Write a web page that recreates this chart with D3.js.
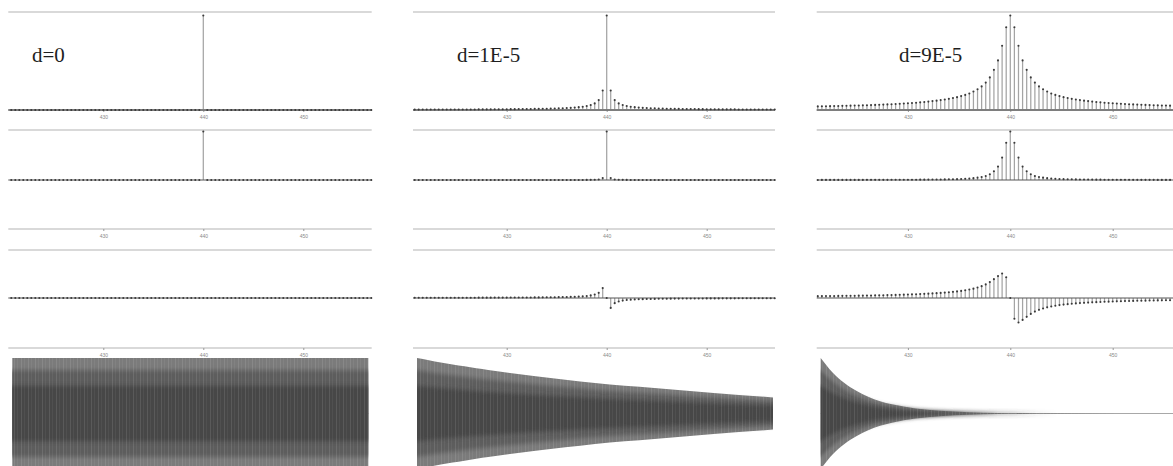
<!DOCTYPE html>
<html>
<head>
<meta charset="utf-8">
<script src="https://cdn.jsdelivr.net/npm/d3@7"></script>
<style>
  body { margin: 0; background: #fff; }
  svg { display: block; }
</style>
</head>
<body>
<svg id="chart" width="1173" height="466"></svg>
<script>
// ---- data ----
const titles = ['d=0', 'd=1E-5', 'd=9E-5'];
const tickValues = [430, 440, 450];
const binStart = 420.8; // Hz, first DFT bin
const binStep = 0.4;    // Hz between bins

// magnitude, bins k = -48 .. 42 (440 Hz is k = 0)
const mag0 = [
  0,0,0,0,0,0,0,0,0,0, 0,0,0,0,0,0,0,0,0,0, 0,0,0,0,0,0,0,0,0,0,
  0,0,0,0,0,0,0,0,0,0, 0,0,0,0,0,0,0,0,
  1,
  0,0,0,0,0,0,0,0,0,0, 0,0,0,0,0,0,0,0,0,0, 0,0,0,0,0,0,0,0,0,0,
  0,0,0,0,0,0,0,0,0,0, 0,0
];
const mag1 = [
  .004,.004,.005,.005,.005,.005,.005,.005,.005,.005, .006,.006,.006,.006,.006,.006,.007,.007,.007,.007,
  .008,.008,.008,.008,.009,.009,.010,.010,.011,.011, .012,.012,.013,.014,.015,.016,.018,.019,.021,.023,
  .026,.030,.035,.042,.053,.070,.105,.206,
  1,
  .206,.105,.070,.053,.042,.035,.030,.026,.023,.021, .019,.018,.016,.015,.014,.013,.012,.012,.011,.011,
  .010,.010,.009,.009,.008,.008,.008,.008,.007,.007, .007,.007,.006,.006,.006,.006,.006,.006,.005,.005,
  .005,.005
];
const mag9 = [
  .037,.038,.039,.040,.041,.042,.043,.044,.045,.046, .047,.048,.049,.051,.052,.054,.055,.057,.059,.061,
  .063,.066,.068,.071,.074,.077,.081,.085,.089,.094, .099,.105,.111,.118,.127,.136,.147,.160,.175,.195,
  .220,.250,.290,.345,.425,.525,.680,.876,
  1,
  .876,.680,.525,.425,.345,.290,.250,.220,.195,.175, .160,.147,.136,.127,.118,.111,.105,.099,.094,.089,
  .085,.081,.077,.074,.071,.068,.066,.063,.061,.059, .057,.055,.054,.052,.051,.049,.048,.047,.046,.045,
  .044,.043
];

// real part
const re0 = mag0;
const re1 = [
  0,0,0,0,0,0,0,0,0,0, 0,0,0,0,0,0,0,0,0,0, 0,0,0,0,0,0,0,0,0,0,
  0,0,0,0,0,0,0,0,0,.001, .001,.001,.001,.002,.003,.005,.011,.042,
  1,
  .042,.011,.005,.003,.002,.001,.001,.001,.001,0, 0,0,0,0,0,0,0,0,0,0,
  0,0,0,0,0,0,0,0,0,0, 0,0,0,0,0,0,0,0,0,0, 0,0
];
const re9 = [
  .001,.001,.002,.002,.002,.002,.002,.002,.002,.002, .002,.002,.002,.003,.003,.003,.003,.003,.003,.004,
  .004,.004,.005,.005,.005,.006,.007,.007,.008,.009, .010,.011,.012,.014,.016,.018,.022,.026,.031,.038,
  .048,.063,.084,.119,.181,.276,.462,.767,
  1,
  .767,.462,.276,.181,.119,.084,.063,.048,.038,.031, .026,.022,.018,.016,.014,.012,.011,.010,.009,.008,
  .007,.007,.006,.005,.005,.005,.004,.004,.004,.003, .003,.003,.003,.003,.003,.002,.002,.002,.002,.002,
  .002,.002
];

// imaginary part
const im0 = [
  0,0,0,0,0,0,0,0,0,0, 0,0,0,0,0,0,0,0,0,0, 0,0,0,0,0,0,0,0,0,0,
  0,0,0,0,0,0,0,0,0,0, 0,0,0,0,0,0,0,0,
  0,
  0,0,0,0,0,0,0,0,0,0, 0,0,0,0,0,0,0,0,0,0, 0,0,0,0,0,0,0,0,0,0,
  0,0,0,0,0,0,0,0,0,0, 0,0
];
const im1 = [
  .004,.004,.005,.005,.005,.005,.005,.005,.005,.005, .006,.006,.006,.006,.006,.006,.007,.007,.007,.007,
  .008,.008,.008,.008,.009,.009,.010,.010,.011,.011, .012,.012,.013,.014,.015,.016,.018,.019,.021,.023,
  .026,.030,.035,.042,.053,.070,.105,.202,
  0,
  -.202,-.105,-.070,-.053,-.042,-.035,-.030,-.026,-.023,-.021, -.019,-.018,-.016,-.015,-.014,-.013,-.012,-.012,-.011,-.011,
  -.010,-.010,-.009,-.009,-.008,-.008,-.008,-.008,-.007,-.007, -.007,-.007,-.006,-.006,-.006,-.006,-.006,-.006,-.005,-.005,
  -.005,-.005
];
const im9 = [
  .037,.038,.039,.040,.041,.042,.043,.044,.045,.046, .047,.048,.049,.051,.052,.054,.055,.057,.059,.061,
  .063,.066,.068,.071,.074,.077,.081,.085,.089,.094, .099,.104,.110,.117,.126,.135,.145,.158,.172,.191,
  .215,.242,.278,.324,.385,.447,.499,.423,
  0,
  -.423,-.499,-.447,-.385,-.324,-.278,-.242,-.215,-.191,-.172, -.158,-.145,-.135,-.126,-.117,-.110,-.104,-.099,-.094,-.089,
  -.085,-.081,-.077,-.074,-.071,-.068,-.066,-.063,-.061,-.059, -.057,-.055,-.054,-.052,-.051,-.049,-.048,-.047,-.046,-.045,
  -.044,-.043
];

// time signal: envelope of the sampled tone (relative time 0..3, relative amplitude)
const envTimes = [0, 0.1, 0.2, 0.3, 0.4, 0.5, 0.6, 0.8, 1.0, 1.25, 1.5, 2.0, 2.5, 3.0];
const env0 = [1, 1, 1, 1, 1, 1, 1, 1, 1, 1, 1, 1, 1, 1];
const env1 = [1, .96, .92, .885, .85, .815, .785, .725, .67, .61, .55, .46, .37, .29];
const env9 = [1, .74, .55, .41, .30, .22, .165, .09, .05, .024, .011, .0025, 0, 0];

// ---- layout ----
const cols = [
  { left: 8.3, right: 371.7, at440: 203.3, pxPerHz: 10 },
  { left: 413, right: 775, at440: 606.7, pxPerHz: 10 },
  { left: 816.7, right: 1181, at440: 1010.3, pxPerHz: 10.24 }
];
const titlePos = [[32, 62], [457, 62], [899, 62]];
const rows = [
  { series: [mag0, mag1, mag9], domain: [0, 1], range: [110, 15.5], top: 12, axis: 110 },
  { series: [re0, re1, re9], domain: [-1, 1], range: [228.5, 131.5], top: 130, axis: 229 },
  { series: [im0, im1, im9], domain: [-1, 1], range: [347, 249], top: 250, axis: 348 }
];
const envelopes = [env0, env1, env9];

const svg = d3.select('#chart');
const defs = svg.append('defs');
defs.append('filter').attr('id', 'soft')
  .attr('x', '-5%').attr('y', '-20%').attr('width', '110%').attr('height', '140%')
  .append('feGaussianBlur').attr('stdDeviation', '0.3 2.2');
const stripes = defs.append('pattern').attr('id', 'stripes')
  .attr('patternUnits', 'userSpaceOnUse').attr('width', 7).attr('height', 10);
stripes.append('rect').attr('x', 0).attr('width', 1).attr('height', 10)
  .attr('fill', '#fff').attr('opacity', 0.10);
stripes.append('rect').attr('x', 3).attr('width', 1).attr('height', 10)
  .attr('fill', '#fff').attr('opacity', 0.05);

titles.forEach((title, c) => {
  const col = cols[c];
  const x0 = col.left;
  const x1 = col.right;
  const x = d3.scaleLinear()
    .domain([430, 450])
    .range([col.at440 - 10 * col.pxPerHz, col.at440 + 10 * col.pxPerHz]);
  const freq = i => binStart + i * binStep;

  rows.forEach(row => {
    const y = d3.scaleLinear().domain(row.domain).range(row.range);
    // only the bins that fall inside this panel
    const values = row.series[c]
      .map((v, i) => ({ f: freq(i), v }))
      .filter(d => x(d.f) >= x0 - 0.5 && x(d.f) <= x1 + 0.5);
    const g = svg.append('g');

    g.append('line')
      .attr('x1', x0).attr('x2', x1)
      .attr('y1', row.top).attr('y2', row.top)
      .attr('stroke', '#b4b4b4').attr('stroke-width', 1.2);

    const axis = g.append('g')
      .attr('transform', `translate(0,${row.axis})`)
      .call(d3.axisBottom(x).tickValues(tickValues).tickSize(2).tickPadding(3).tickSizeOuter(0));
    axis.select('.domain')
      .attr('d', `M${x0},0H${x1}`)
      .attr('stroke', row.domain[0] === 0 ? '#555' : '#b4b4b4').attr('stroke-width', 1.2);
    axis.selectAll('.tick line').attr('stroke', '#999');
    axis.selectAll('.tick text')
      .attr('fill', '#8a8a8a')
      .style('font-family', 'Liberation Sans, Arial, sans-serif')
      .style('font-size', '5px');

    g.selectAll('line.stem')
      .data(values)
      .join('line')
      .attr('class', 'stem')
      .attr('x1', d => x(d.f)).attr('x2', d => x(d.f))
      .attr('y1', y(0)).attr('y2', d => y(d.v))
      .attr('stroke', '#a4a4a4').attr('stroke-width', 1.25);

    g.append('line')
      .attr('x1', x0).attr('x2', x1)
      .attr('y1', y(0)).attr('y2', y(0))
      .attr('stroke', '#555').attr('stroke-width', 1);

    g.selectAll('circle')
      .data(values)
      .join('circle')
      .attr('cx', d => x(d.f))
      .attr('cy', d => y(d.v))
      .attr('r', 1.05)
      .attr('fill', '#3a3a3a');
  });

  // time signal
  const t = d3.scaleLinear().domain([0, 3]).range([x0 + 4, x0 + 360]);
  const a = d3.scaleLinear().domain([-1, 1]).range([469, 358]);
  const env = envelopes[c];
  const pts = envTimes.map((tt, i) => [tt, env[i]]);
  const band = k => d3.area()
    .curve(d3.curveMonotoneX)
    .x(d => t(d[0]))
    .y0(d => a(-d[1] * k))
    .y1(d => a(d[1] * k));
  const tg = svg.append('g');
  tg.append('line')
    .attr('x1', t(0)).attr('x2', t(3))
    .attr('y1', a(0)).attr('y2', a(0))
    .attr('stroke', '#a8a8a8').attr('stroke-width', 1);
  tg.append('path').datum(pts).attr('d', band(1)).attr('fill', '#7b7b7b');
  tg.append('path').datum(pts).attr('d', band(0.78)).attr('fill', '#5d5d5d').attr('filter', 'url(#soft)');
  tg.append('path').datum(pts).attr('d', band(0.5)).attr('fill', '#474747').attr('filter', 'url(#soft)');
  tg.append('path').datum(pts).attr('d', band(1)).attr('fill', 'url(#stripes)');

  svg.append('text')
    .attr('x', titlePos[c][0]).attr('y', titlePos[c][1])
    .attr('fill', '#1e1e1e')
    .style('font-family', 'Liberation Serif, Times New Roman, serif')
    .style('font-size', '21px')
    .text(title);
});
</script>
</body>
</html>
